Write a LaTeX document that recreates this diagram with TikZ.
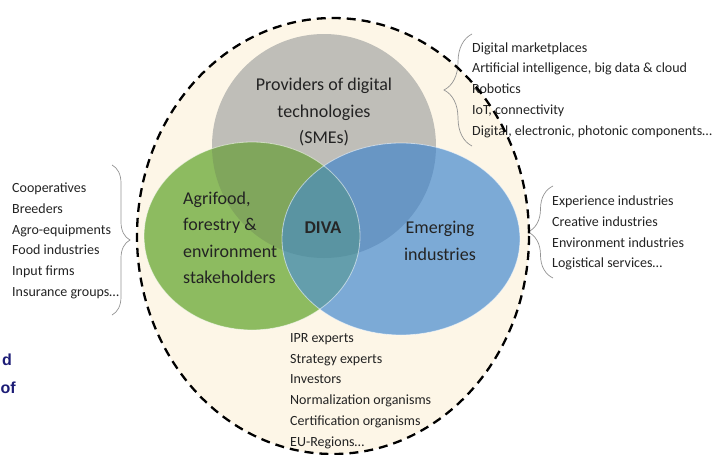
\documentclass[tikz,border=0pt]{standalone}
\usepackage{fontspec}
\setmainfont{Carlito}
\newfontfamily\slidefont{Liberation Sans}
\usetikzlibrary{decorations.pathreplacing}
\definecolor{cream}{RGB}{253,246,231}
\definecolor{techgray}{RGB}{191,190,184}
\definecolor{agrigreen}{RGB}{141,187,96}
\definecolor{emergblue}{RGB}{124,170,214}
\definecolor{olivegreen}{RGB}{128,166,92}
\definecolor{steelblue}{RGB}{104,150,196}
\definecolor{tealmix}{RGB}{100,158,172}
\definecolor{tealdark}{RGB}{90,148,162}
\definecolor{navy}{RGB}{28,28,118}
\definecolor{ink}{RGB}{35,35,35}
\def\techset{(324,146) circle [radius=112]}
\def\agriset{(252,236) ellipse [x radius=108, y radius=94]}
\def\emergset{(401,239) ellipse [x radius=119, y radius=96]}
\begin{document}
\begin{tikzpicture}[x=1pt,y=-1pt,
  biglabel/.style={font=\fontsize{18}{26.5}\selectfont, text=ink, inner sep=0pt},
  listtext/.style={font=\fontsize{14}{20.7}\selectfont, text=ink, align=left, inner sep=0pt, anchor=west},
  bracket/.style={draw=gray!85, line width=0.7pt, decorate},
  fragment/.style={font=\slidefont\bfseries\fontsize{16}{18}\selectfont, text=navy, inner sep=0pt, anchor=base west}]
\useasboundingbox (0,0) rectangle (716,455);
 % cream background of the ecosystem
 \fill[cream] (333,236) ellipse [x radius=196, y radius=218];
 % the three sets
 \fill[techgray] \techset;
 \fill[agrigreen] \agriset;
 \fill[emergblue] \emergset;
 \begin{scope}
  \clip \techset;
  \fill[olivegreen] \agriset;
  \fill[steelblue] \emergset;
 \end{scope}
 \begin{scope}
  \clip \agriset;
  \fill[tealmix] \emergset;
  \clip \techset;
  \fill[tealdark] \emergset;
 \end{scope}
 \draw[white, opacity=0.55, line width=0.8pt] \agriset;
 \draw[white, opacity=0.55, line width=0.8pt] \emergset;
 % labels in the sets
 \node[biglabel, align=center] (prov) at (324,112) {Providers of digital\\technologies\\(SMEs)};
 \node[biglabel, align=left, anchor=west] (agri) at (183,238) {Agrifood,\\forestry \&\\environment\\stakeholders};
 \node[biglabel, font=\fontsize{18}{26.5}\selectfont\bfseries, text=black!85] (diva) at (323,228) {DIVA};
 \node[biglabel, align=center] (emerg) at (440,241) {Emerging\\industries};
 % lists of actors
 \node[listtext] (techlist) at (472,90) {Digital marketplaces\\Artificial intelligence, big data \& cloud\\Robotics\\IoT, connectivity\\Digital, electronic, photonic components…};
 \node[listtext] (agrilist) at (12,241) {Cooperatives\\Breeders\\Agro-equipments\\Food industries\\Input firms\\Insurance groups…};
 \node[listtext] (emerglist) at (552,233) {Experience industries\\Creative industries\\Environment industries\\Logistical services…};
 \node[listtext] (supportlist) at (290,391) {IPR experts\\Strategy experts\\Investors\\Normalization organisms\\Certification organisms\\EU-Regions…};
 % braces
 \draw[bracket, decoration={brace, amplitude=28pt}] (472,146) -- (472,34);
 \draw[bracket, decoration={brace, amplitude=18pt}] (112,165) -- (112,315);
 \draw[bracket, decoration={brace, amplitude=25pt}] (553,278) -- (553,186);
 % dashed border
 \draw[line width=2.3pt, dash pattern=on 9pt off 6pt] (333,236) ellipse [x radius=196, y radius=218];
 % slide text at the left edge
 \node[fragment] (frag1) at (2,365) {d};
 \node[fragment] (frag2) at (0.5,393) {of};
\end{tikzpicture}
\end{document}
